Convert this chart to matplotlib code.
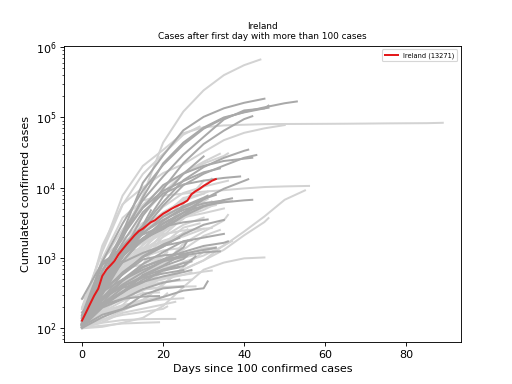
import matplotlib
matplotlib.use("Agg")
import matplotlib.pyplot as plt

# Ireland daily cumulative cases since first day with > 100 cases
ireland = [129, 169, 223, 292, 366, 557, 683, 785, 906, 1125, 1329, 1564, 1819,
           2121, 2415, 2615, 2910, 3235, 3447, 3849, 4273, 4604, 4994, 5364, 5709,
           6074, 6574, 8089, 8928, 9655, 10647, 11479, 12547, 13271]

# Other countries: (last day, values sampled every 5 days + value at last day)
europe = {
    "Italy": (53, [155, 888, 3089, 9172, 21157, 41035, 69176, 97689, 119827, 139422, 159516, 168941]),
    "Spain": (45, [120, 500, 2277, 11748, 28768, 65719, 102136, 135032, 161852, 184948]),
    "Germany": (46, [130, 670, 1908, 7272, 22213, 43938, 71808, 100123, 118181, 134753, 137698]),
    "France": (46, [130, 653, 2293, 6650, 14459, 29551, 52827, 93773, 125931, 134582, 147091]),
    "United Kingdom": (42, [116, 384, 1144, 4014, 9640, 22453, 41903, 65077, 94845, 104145]),
    "Belgium": (41, [169, 314, 1243, 2815, 6235, 12775, 19691, 26667, 33573, 34809]),
    "Netherlands": (43, [128, 321, 1135, 2467, 5580, 10866, 15821, 20682, 26710, 29214]),
    "Switzerland": (42, [114, 491, 2200, 5294, 10897, 15922, 20505, 24051, 25936, 26732]),
    "Russia": (30, [114, 367, 1036, 2777, 7497, 15770, 27938]),
    "Austria": (39, [104, 504, 1646, 4486, 8271, 11129, 12639, 13806, 14476]),
    "Portugal": (34, [112, 642, 2060, 5170, 9034, 12442, 16585, 18841]),
    "Sweden": (41, [137, 500, 1103, 1763, 2806, 4435, 6830, 9685, 12540, 13216]),
    "Norway": (42, [113, 400, 1221, 1914, 3084, 4445, 5550, 6211, 6623, 6740]),
    "Denmark": (37, [264, 864, 1337, 1862, 2577, 3946, 5402, 6681, 7073]),
    "Poland": (33, [119, 355, 901, 1862, 3383, 5205, 6934, 7918]),
    "Czechia": (35, [116, 450, 1120, 2279, 3508, 4822, 5991, 6606]),
    "Romania": (31, [139, 367, 1029, 2245, 3864, 5467, 7216, 7707]),
    "Finland": (35, [109, 319, 626, 1025, 1446, 2176, 2974, 3489]),
    "Greece": (35, [117, 331, 495, 821, 1212, 1735, 1955, 2207]),
    "Luxembourg": (31, [140, 798, 1453, 2178, 2804, 3223, 3480, 3537]),
    "Serbia": (28, [103, 303, 900, 1908, 2666, 4054, 5318]),
    "Ukraine": (24, [113, 356, 1072, 1892, 3102, 4161]),
    "Croatia": (27, [105, 382, 867, 1182, 1495, 1704, 1791]),
    "Slovenia": (34, [141, 275, 480, 756, 934, 1091, 1205, 1248]),
    "Hungary": (26, [103, 226, 492, 678, 895, 1410, 1763]),
    "Iceland": (36, [103, 250, 473, 737, 963, 1220, 1486, 1648, 1727]),
    "Estonia": (33, [115, 225, 326, 575, 779, 1149, 1304, 1400]),
    "Moldova": (24, [109, 263, 591, 1056, 1560, 1934]),
    "Lithuania": (25, [143, 358, 581, 955, 1091, 1149]),
    "Bulgaria": (27, [127, 264, 399, 549, 685, 846, 894]),
    "Albania": (24, [104, 197, 259, 361, 446, 494]),
    "Andorra": (25, [113, 267, 390, 526, 601, 673]),
    "San Marino": (31, [101, 144, 187, 230, 279, 344, 371, 465]),
    "Latvia": (27, [111, 221, 376, 458, 548, 630, 675]),
    "North Macedonia": (26, [114, 201, 329, 555, 765, 967, 1081]),
    "Cyprus": (24, [116, 214, 320, 494, 662, 735]),
    "Bosnia and Herzegovina": (26, [126, 258, 420, 624, 901, 1037, 1110]),
    "Malta": (25, [107, 156, 188, 299, 370, 393]),
    "Slovakia": (28, [123, 216, 336, 450, 682, 769, 1049]),
    "Belarus": (17, [152, 440, 1486, 2919, 4779]),
    "Montenegro": (19, [109, 214, 263, 283, 288]),
}

others = {
    "US": (44, [118, 537, 2179, 7786, 43847, 121478, 243453, 400335, 555313, 667801]),
    "China": (89, [198, 1287, 7711, 20438, 34546, 59804, 72436, 77150, 78824, 80409,
                   80754, 80980, 81200, 81500, 81900, 82400, 82700, 83000, 84000]),
    "Iran": (50, [139, 1501, 5823, 10075, 16169, 21638, 32332, 47593, 60500, 70029, 77995]),
    "Korea, South": (56, [104, 977, 3736, 6593, 7755, 8236, 8799, 9241, 9786, 10237, 10450, 10591, 10613]),
    "Japan": (55, [105, 189, 274, 461, 639, 878, 1086, 1499, 2384, 3906, 6748, 9167]),
    "Singapore": (46, [106, 130, 178, 243, 432, 683, 926, 1309, 2108, 3252, 3699]),
    "Hong Kong": (45, [100, 105, 120, 141, 208, 386, 682, 862, 990, 1019]),
    "Turkey": (29, [191, 1236, 5698, 15679, 30217, 56956, 74193]),
    "Canada": (36, [108, 424, 1328, 4043, 8527, 15756, 22148, 28379, 30808]),
    "Brazil": (34, [151, 904, 2554, 5717, 10278, 16170, 23430, 30425]),
    "Israel": (36, [109, 298, 1238, 2693, 5358, 8430, 10408, 12200, 12591]),
    "Australia": (37, [107, 377, 876, 2364, 4163, 5224, 6108, 6416, 6462]),
    "India": (32, [113, 396, 657, 1251, 3082, 6725, 10453, 13430]),
    "Peru": (30, [117, 363, 635, 1065, 2281, 5897, 12491]),
    "Chile": (31, [156, 632, 1610, 2738, 4471, 6501, 8273, 8807]),
    "Ecuador": (30, [111, 981, 1823, 3163, 3995, 7161, 8225]),
    "Mexico": (29, [118, 405, 848, 1378, 2439, 4219, 6297]),
    "Saudi Arabia": (32, [103, 392, 1203, 1720, 2605, 3651, 5369, 6380]),
    "Pakistan": (31, [187, 776, 1408, 2291, 3864, 4892, 6383, 6919]),
    "Philippines": (33, [111, 307, 707, 1546, 3246, 4195, 5223, 5660]),
    "Indonesia": (32, [117, 450, 893, 1528, 2491, 3842, 4839, 5516]),
    "United Arab Emirates": (30, [113, 198, 468, 814, 2076, 3736, 5825]),
    "Qatar": (36, [262, 401, 470, 537, 781, 1604, 2376, 3428, 4103]),
    "Malaysia": (35, [149, 553, 1306, 2161, 2908, 3793, 4346, 5072]),
    "South Africa": (30, [116, 402, 1170, 1380, 1686, 2028, 2605]),
    "Egypt": (34, [109, 210, 327, 576, 865, 1322, 2065, 2505]),
    "Colombia": (29, [102, 306, 608, 1161, 1579, 2709, 3105]),
    "Argentina": (28, [128, 387, 820, 1265, 1715, 2208, 2571]),
    "Thailand": (32, [114, 411, 1136, 1651, 2169, 2473, 2613, 2672]),
    "Bahrain": (37, [110, 214, 279, 392, 515, 688, 925, 1528, 1740]),
    "Kuwait": (33, [104, 159, 208, 255, 417, 743, 1234, 1405]),
    "Lebanon": (32, [109, 230, 368, 446, 527, 575, 641, 663]),
    "Iraq": (33, [110, 233, 316, 547, 820, 1122, 1378, 1415]),
    "Algeria": (26, [139, 367, 716, 1320, 1761, 2160, 2268]),
    "Morocco": (26, [115, 275, 654, 1184, 1448, 2283, 2564]),
    "Dominican Republic": (26, [112, 488, 1109, 1828, 2349, 3614, 4335]),
    "Panama": (30, [109, 313, 786, 1317, 1988, 2974, 3751]),
    "Costa Rica": (27, [113, 231, 347, 435, 502, 577, 626]),
    "Uruguay": (27, [110, 217, 338, 400, 456, 483, 493]),
    "New Zealand": (25, [102, 368, 708, 1039, 1283, 1401]),
    "Vietnam": (25, [113, 174, 212, 241, 257, 268]),
    "Taiwan": (28, [100, 216, 306, 355, 382, 393, 395]),
    "Sri Lanka": (23, [102, 122, 166, 190, 218, 238]),
    "Cuba": (19, [119, 212, 396, 620, 862]),
    "Tunisia": (24, [114, 312, 495, 623, 726, 822]),
    "Kazakhstan": (21, [111, 348, 697, 812, 1091, 1232]),
    "Jordan": (25, [112, 235, 299, 358, 389, 397]),
    "Afghanistan": (20, [110, 174, 349, 555, 840]),
    "Bangladesh": (10, [123, 424, 1572]),
    "Oman": (21, [109, 192, 298, 484, 813, 1069]),
    "Ghana": (20, [137, 161, 214, 408, 641]),
    "Nigeria": (18, [111, 184, 276, 343, 442]),
    "Senegal": (21, [105, 142, 207, 250, 280, 314]),
    "Venezuela": (21, [107, 135, 155, 171, 189, 204]),
    "Bolivia": (15, [115, 183, 268, 441]),
    "Honduras": (18, [110, 172, 298, 392, 426]),
    "Burkina Faso": (21, [146, 246, 345, 443, 497, 528]),
    "Cote d'Ivoire": (20, [101, 194, 323, 574, 688]),
    "Azerbaijan": (21, [122, 209, 443, 717, 1058, 1197]),
    "Armenia": (28, [115, 235, 407, 663, 881, 1013, 1111]),
    "Brunei": (23, [104, 120, 131, 135, 136, 136]),
    "Cambodia": (19, [103, 109, 117, 120, 122]),
    "Mauritius": (19, [102, 169, 244, 318, 324]),
    "Kenya": (13, [122, 172, 197, 225]),
}

LIGHT = "#d3d3d3"
DARK = "#a9a9a9"
RED = "#e41a1c"


def days_for(last, n):
    d = list(range(0, last, 5)) + [last]
    return d[:n]


fig, ax = plt.subplots(figsize=(6.4, 4.8), dpi=80)

for name, (last, vals) in others.items():
    d = days_for(last, len(vals))
    ax.plot(d, vals[:len(d)], color=LIGHT, lw=1.8, zorder=1)
for name, (last, vals) in europe.items():
    d = days_for(last, len(vals))
    ax.plot(d, vals[:len(d)], color=DARK, lw=1.8, zorder=2)

ax.plot(range(len(ireland)), ireland, color=RED, lw=1.8, zorder=3,
        label=f"Ireland ({ireland[-1]})")

ax.set_yscale("log")
ax.set_xlabel("Days since 100 confirmed cases")
ax.set_ylabel("Cumulated confirmed cases")
ax.set_title("Ireland\nCases after first day with more than 100 cases", fontsize=8)
ax.legend(loc="upper right", fontsize=6)

fig.savefig("out.png", dpi=80)
